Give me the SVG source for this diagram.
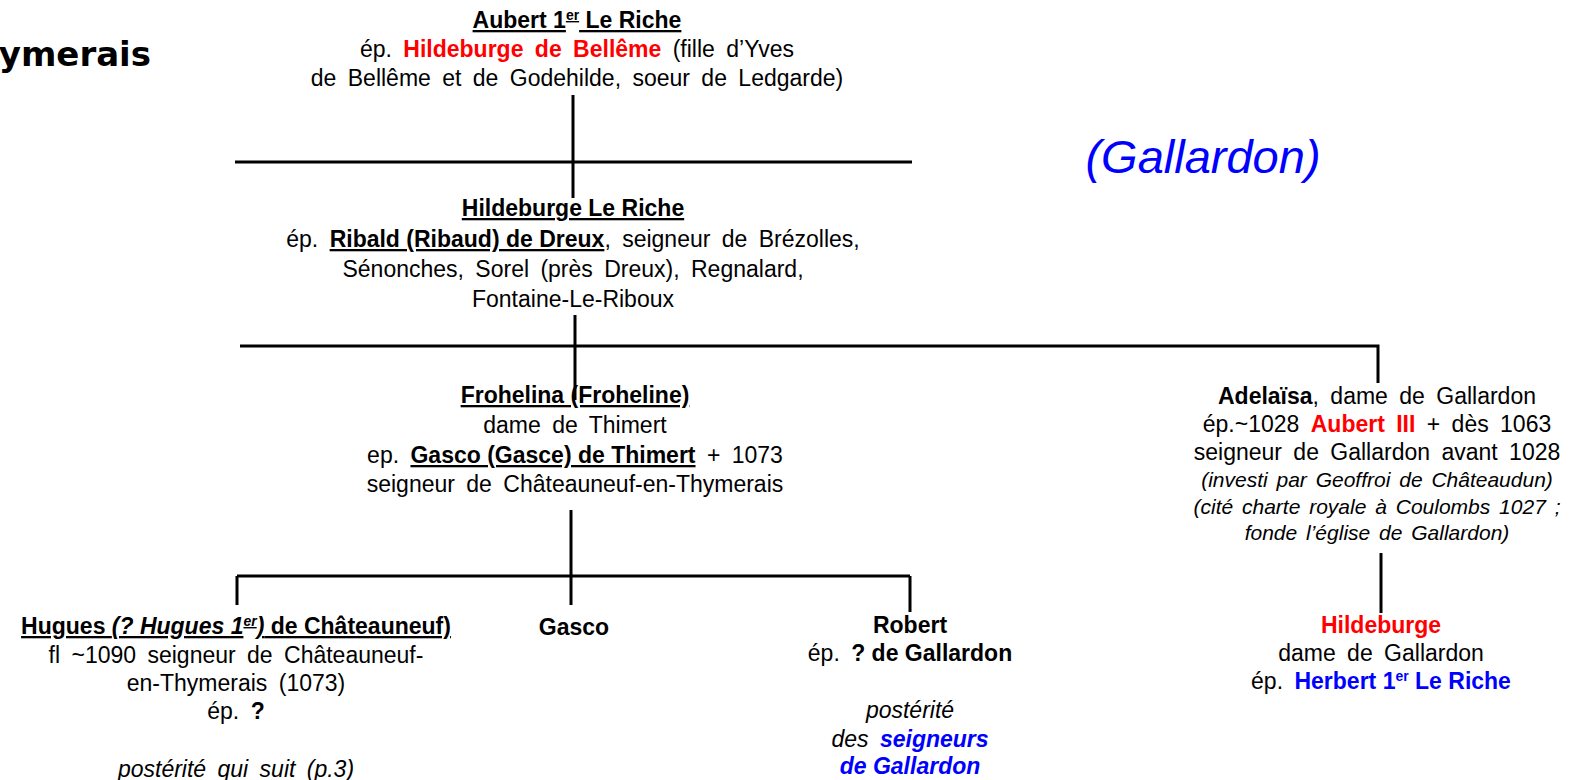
<svg xmlns="http://www.w3.org/2000/svg" width="1569" height="780" viewBox="0 0 1569 780">
<style>
text{font-family:"Liberation Sans",Arial,sans-serif;font-size:23px;fill:#000;text-anchor:middle;word-spacing:5px}
.b{font-weight:bold}
.i{font-style:italic}
.u{text-decoration:underline}
.t{word-spacing:0}
.r{fill:#FF0000;font-weight:bold}
.bl{fill:#0000FF}
.sm{font-size:21px;word-spacing:3px}
.sup{font-size:14px}
.ln{stroke:#000;stroke-width:3;fill:none}
</style>
<rect width="1569" height="780" fill="#fff"/>
<text x="151" y="66" style="font-family:'DejaVu Sans',Verdana,sans-serif;font-weight:bold;font-size:34px;text-anchor:end;word-spacing:0">ymerais</text>
<text x="1203" y="173" class="i bl" style="font-size:47px;word-spacing:0">(Gallardon)</text>
<g id="connectors">
<path class="ln" d="M573 95V198M235 162H912"/>
<path class="ln" d="M575 315V400M240 346H1378V383"/>
<path class="ln" d="M571 510V605M237 576H910M237 576V605M910 576V612"/>
<path class="ln" d="M1381 553V613"/>
</g>
<g id="aubert">
<text x="577" y="28" class="b u t">Aubert 1<tspan class="sup" dy="-8">er</tspan><tspan dy="8">  Le Riche</tspan></text>
<text x="577" y="57">ép. <tspan class="r">Hildeburge de Bellême</tspan> (fille d’Yves</text>
<text x="577" y="86">de Bellême et de Godehilde, soeur de Ledgarde)</text>
</g>
<g id="hildeburge-le-riche">
<text x="573" y="216" class="b u t">Hildeburge Le Riche</text>
<text x="573" y="247">ép. <tspan class="b u t">Ribald (Ribaud) de Dreux</tspan>, seigneur de Brézolles,</text>
<text x="573" y="277">Sénonches, Sorel (près Dreux), Regnalard,</text>
<text x="573" y="307">Fontaine-Le-Riboux</text>
</g>
<g id="frohelina">
<text x="575" y="403" class="b u t">Frohelina (Froheline)</text>
<text x="575" y="433">dame de Thimert</text>
<text x="575" y="463">ep. <tspan class="b u t">Gasco (Gasce) de Thimert</tspan> + 1073</text>
<text x="575" y="492">seigneur de Châteauneuf-en-Thymerais</text>
</g>
<g id="adelaisa">
<text x="1377" y="404"><tspan class="b">Adelaïsa</tspan>, dame de Gallardon</text>
<text x="1377" y="432">ép.~1028 <tspan class="r">Aubert III</tspan> + dès 1063</text>
<text x="1377" y="460">seigneur de Gallardon avant 1028</text>
<text x="1377" y="487" class="i sm">(investi par Geoffroi de Châteaudun)</text>
<text x="1377" y="514" class="i sm">(cité charte royale à Coulombs 1027 ;</text>
<text x="1377" y="540" class="i sm">fonde l’église de Gallardon)</text>
</g>
<g id="hugues">
<text x="236" y="634" class="b u t">Hugues <tspan class="i">(? Hugues 1</tspan><tspan class="i sup" dy="-8">er</tspan><tspan class="i" dy="8">)</tspan> de Châteauneuf)</text>
<text x="236" y="663">fl ~1090 seigneur de Châteauneuf-</text>
<text x="236" y="691">en-Thymerais (1073)</text>
<text x="236" y="719">ép. <tspan class="b">?</tspan></text>
<text x="236" y="777" class="i">postérité qui suit (p.3)</text>
</g>
<g id="gasco">
<text x="574" y="635" class="b">Gasco</text>
</g>
<g id="robert">
<text x="910" y="633" class="b">Robert</text>
<text x="910" y="661">ép. <tspan class="b t">? de Gallardon</tspan></text>
<text x="910" y="718" class="i">postérité</text>
<text x="910" y="747" class="i">des <tspan class="b bl">seigneurs</tspan></text>
<text x="910" y="774" class="i b bl t">de Gallardon</text>
</g>
<g id="hildeburge-gallardon">
<text x="1381" y="633" class="r">Hildeburge</text>
<text x="1381" y="661">dame de Gallardon</text>
<text x="1381" y="689">ép. <tspan class="b bl t">Herbert 1<tspan class="sup" dy="-8">er</tspan><tspan dy="8"> Le Riche</tspan></tspan></text>
</g>
</svg>
